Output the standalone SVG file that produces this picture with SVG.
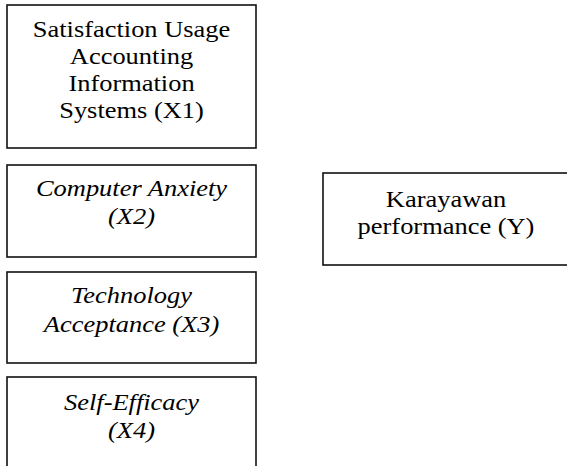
<svg xmlns="http://www.w3.org/2000/svg" width="567" height="466" viewBox="0 0 567 466">
<style>
.box{fill:#fff;stroke:#111;stroke-width:1.6}
.t{font-family:"Liberation Serif","Times New Roman",serif;font-size:23px;fill:#000;text-anchor:middle}
.i{font-style:italic}
</style>
<rect width="567" height="466" fill="#fff"/>
<g id="x1">
<rect class="box" x="7" y="5" width="249" height="143"/>
<g transform="translate(131.5 0) scale(1.15 1)">
<text class="t" x="0" y="37.5">Satisfaction Usage</text>
<text class="t" x="0" y="64.5">Accounting</text>
<text class="t" x="0" y="91.5">Information</text>
<text class="t" x="0" y="118.5">Systems (X1)</text>
</g>
</g>
<g id="x2">
<rect class="box" x="7" y="165" width="249" height="92"/>
<g transform="translate(131.5 0) scale(1.15 1)">
<text class="t i" x="0" y="196">Computer Anxiety</text>
<text class="t i" x="0" y="224">(X2)</text>
</g>
</g>
<g id="x3">
<rect class="box" x="7" y="272" width="249" height="91"/>
<g transform="translate(131.5 0) scale(1.15 1)">
<text class="t i" x="0" y="303">Technology</text>
<text class="t i" x="0" y="332">Acceptance (X3)</text>
</g>
</g>
<g id="x4">
<rect class="box" x="7" y="377" width="249" height="100"/>
<g transform="translate(131.5 0) scale(1.15 1)">
<text class="t i" x="0" y="410">Self-Efficacy</text>
<text class="t i" x="0" y="438">(X4)</text>
</g>
</g>
<g id="y">
<rect class="box" x="323" y="173" width="260" height="92"/>
<g transform="translate(446 0) scale(1.15 1)">
<text class="t" x="0" y="207">Karayawan</text>
<text class="t" x="0" y="234">performance (Y)</text>
</g>
</g>
<g id="connectors"></g>
</svg>
